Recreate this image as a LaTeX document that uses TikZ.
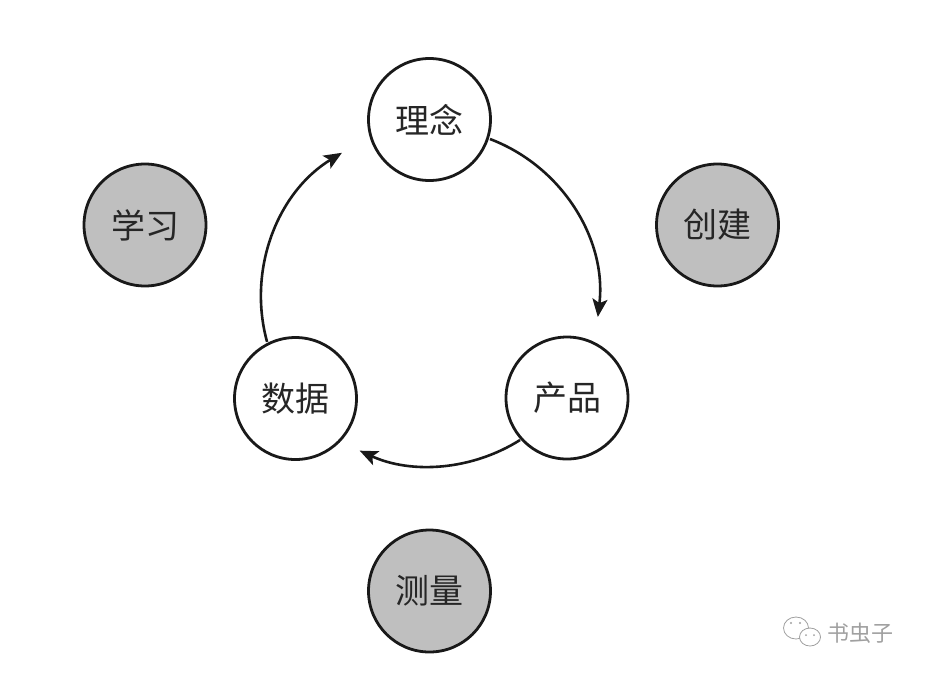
\documentclass[tikz,border=0pt]{standalone}
\usepackage{fontspec}
\newfontfamily\cjk{Noto Sans CJK SC}
\usetikzlibrary{arrows.meta}
\definecolor{fillgray}{RGB}{191,191,191}
\definecolor{markgray}{RGB}{160,160,160}
\begin{document}
\begin{tikzpicture}[x=1pt,y=-1pt,
  stage/.style={circle,draw=black!90,line width=2.8pt,minimum size=122pt,inner sep=0pt,
    font=\cjk\fontsize{34}{34}\selectfont,text=black!85,fill=white},
  phase/.style={stage,fill=fillgray},
  flow/.style={line width=2.6pt,draw=black!90,-{Stealth[length=18pt,width=15pt,inset=4pt]}}]
\useasboundingbox (0,0) rectangle (925,673);
\node[stage] (idea) at (429.5,119.5) {理念};
\node[stage] (prod) at (567,398) {产品};
\node[stage] (data) at (295.5,398.5) {数据};
\node[phase] (learn) at (145,225) {学习};
\node[phase] (build) at (717.5,225) {创建};
\node[phase] (meas) at (429.5,591) {测量};
\coordinate (hub) at (430,297);
\draw[flow] ([shift={(-69.2:169)}]hub) arc[start angle=-69.2,end angle=6.8,radius=169];
\draw[flow] ([shift={(57.8:169)}]hub) arc[start angle=57.8,end angle=114.6,radius=169];
\draw[flow] ([shift={(164.6:169)}]hub) arc[start angle=164.6,end angle=238.6,radius=169];
% watermark
\draw[markgray,line width=0.8pt,fill=white] (796,628) ellipse[x radius=12.5pt,y radius=11pt];
\draw[markgray,line width=0.8pt,fill=white] (810,637) ellipse[x radius=10.5pt,y radius=9pt];
\fill[markgray] (791,623) circle[radius=1.1pt] (800,623) circle[radius=1.1pt]
  (806,635) circle[radius=1pt] (814,635) circle[radius=1pt];
\node[markgray,font=\cjk\fontsize{22}{22}\selectfont,anchor=west,inner sep=0pt] (mark) at (827,633) {书虫子};
\end{tikzpicture}
\end{document}
